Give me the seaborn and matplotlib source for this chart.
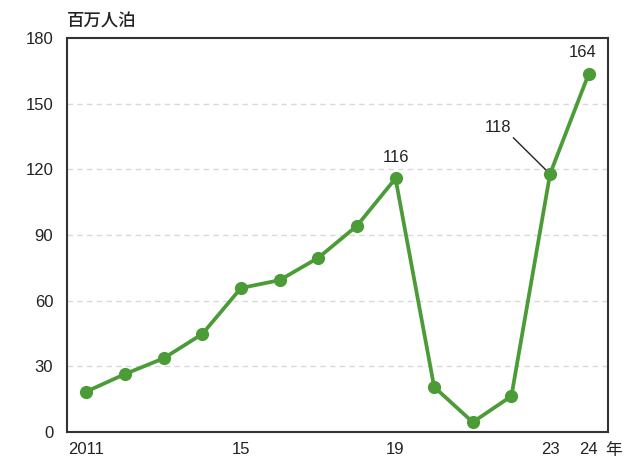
import matplotlib
matplotlib.use("Agg")
import matplotlib.pyplot as plt
import seaborn as sns
import pandas as pd

years = [2011, 2012, 2013, 2014, 2015, 2016, 2017, 2018, 2019, 2020, 2021, 2022, 2023, 2024]
values = [18.5, 26.5, 33.7, 44.8, 65.8, 69.4, 79.6, 94.2, 115.9, 20.6, 4.5, 16.4, 117.9, 163.7]
tick_years = [2011, 2015, 2019, 2023, 2024]
tick_labels = ["2011", "15", "19", "23", "24"]
y_ticks = [0, 30, 60, 90, 120, 150, 180]

sns.set_theme(style="white")
plt.rcParams['font.family'] = ['Liberation Sans', 'Noto Sans CJK JP', 'DejaVu Sans']

df = pd.DataFrame({"year": years, "value": values})
color = "#4b9b37"

fig = plt.figure(figsize=(6.33, 4.59), dpi=100)
ax = fig.add_axes([0.106, 0.0588, 0.8545, 0.858])
sns.lineplot(data=df, x="year", y="value", ax=ax, color=color, linewidth=2.7,
             marker="o", markersize=9.5, markeredgewidth=0, zorder=3)

ax.set_xlim(2010.5, 2024.5)
ax.set_ylim(0, 180)
ax.set_xticks(tick_years)
ax.set_xticklabels(tick_labels)
ax.set_yticks(y_ticks)
ax.tick_params(axis='both', length=0, labelsize=12, colors="#222222")
ax.tick_params(axis='x', pad=7.5)
ax.tick_params(axis='y', pad=10)
ax.set_xlabel("")
ax.set_ylabel("")
for y in y_ticks[1:-1]:
    ax.axhline(y, color="#d9d9d9", linestyle=(0, (4, 3)), linewidth=1, zorder=1)
for s in ax.spines.values():
    s.set_color("#333333")
    s.set_linewidth(1.5)

ax.text(0.0, 1.042, "百万人泊", transform=ax.transAxes, fontsize=12.5,
        family=['Noto Sans CJK JP'], fontweight='medium', ha='left', va='center', color="#222222")
ax.text(1.011, -0.046, "年", transform=ax.transAxes, fontsize=12,
        family=['Noto Sans CJK JP'], ha='center', va='center', color="#222222")

ax.annotate("116", xy=(2019, values[8]), xytext=(0, 10), textcoords="offset points",
            ha='center', va='bottom', fontsize=12, color="#222222")
ax.annotate("164", xy=(2024, values[13]), xytext=(-4, 10), textcoords="offset points",
            ha='center', va='bottom', fontsize=12, color="#222222")
ax.text(2021.65, 139.3, "118", ha='center', va='center', fontsize=12, color="#222222")
ax.annotate("", xy=(2023, values[12]), xytext=(2022.05, 134.5), textcoords="data",
            arrowprops=dict(arrowstyle='-', color="#222222", lw=1, shrinkA=0, shrinkB=0),
            zorder=2)

fig.savefig("out.png", dpi=100)
